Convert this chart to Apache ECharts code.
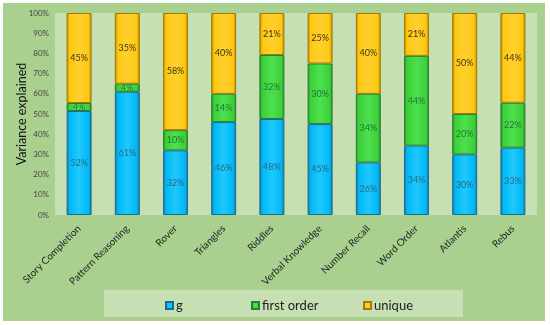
<!DOCTYPE html>
<html>
<head>
<meta charset="utf-8">
<script src="https://cdn.jsdelivr.net/npm/echarts@6/dist/echarts.min.js"></script>
<style>
html,body{margin:0;padding:0;background:#fff;}
#c{width:550px;height:325px;}
</style>
</head>
<body>
<div id="c"></div>
<script>
var categories = ['Story Completion','Pattern Reasoning','Rover','Triangles','Riddles','Verbal Knowledge','Number Recall','Word Order','Atlantis','Rebus'];
var gValues = [52,61,32,46,48,45,26,34,30,33];
var firstOrderValues = [4,4,10,14,32,30,34,44,20,22];
var uniqueValues = [45,35,58,40,21,25,40,21,50,44];
var yTicks = ['0%','10%','20%','30%','40%','50%','60%','70%','80%','90%','100%'];

// 100% stacked: each bar's share of its own total
function share(arr, i) {
  var t = gValues[i] + firstOrderValues[i] + uniqueValues[i];
  return arr[i] / t * 100;
}
function shares(arr) { return arr.map(function(v, i){ return { value: share(arr, i), raw: v }; }); }

function grad(edge, main, light) {
  return new echarts.graphic.LinearGradient(0, 0, 1, 0, [
    {offset: 0, color: edge},
    {offset: 0.12, color: main},
    {offset: 0.5, color: light},
    {offset: 0.88, color: main},
    {offset: 1, color: edge}
  ]);
}

var FONT = 'Lato';
var chart = echarts.init(document.getElementById('c'), null, {renderer: 'canvas'});

function mkSeries(name, arr, edge, main, light, border, labelColor) {
  return {
    name: name,
    type: 'bar',
    stack: 'total',
    barWidth: 25,
    data: shares(arr),
    itemStyle: { color: grad(edge, main, light), borderColor: border, borderWidth: 1 },
    label: {
      show: true, position: 'inside', fontFamily: FONT, fontSize: 9, color: labelColor,
      formatter: function(p){ return p.data.raw + '%'; }
    },
    emphasis: { disabled: true }
  };
}

function legendAt(left, name) {
  return {
    left: left, top: 294, itemWidth: 7, itemHeight: 7, icon: 'rect',
    data: [name],
    textStyle: { fontFamily: FONT, fontSize: 13, color: '#222', padding: [0,0,0,-2] },
    selectedMode: false
  };
}

chart.setOption({
  backgroundColor: '#ffffff',
  animation: false,
  graphic: [
    { type: 'rect', left: 3, top: 3, shape: { width: 542, height: 318 }, style: { fill: '#a9d08e' }, z: -10 },
    { type: 'rect', left: 104, top: 290, shape: { width: 359, height: 27 }, style: { fill: '#c6e0b4' }, z: -9 }
  ],
  legend: [
    legendAt(160, 'g'),
    legendAt(246, 'first order'),
    legendAt(358, 'unique')
  ],
  grid: {
    left: 55, right: 13, top: 13, bottom: 110,
    show: true, backgroundColor: '#c6e0b4', borderWidth: 0
  },
  xAxis: {
    type: 'category',
    data: categories,
    axisLine: { show: false },
    axisTick: { show: false },
    axisLabel: { rotate: 45, interval: 0, margin: 12, fontFamily: FONT, fontSize: 10, color: '#262626' }
  },
  yAxis: {
    type: 'value',
    min: 0, max: 100, interval: 10,
    name: 'Variance explained',
    nameLocation: 'middle',
    nameRotate: 90,
    nameGap: 27,
    nameMoveOverlap: false,
    nameTextStyle: { fontFamily: FONT, fontSize: 12.5, color: '#111' },
    splitLine: { show: false },
    axisLine: { show: false },
    axisTick: { show: false },
    axisLabel: {
      margin: 6, fontFamily: FONT, fontSize: 8, color: '#444',
      formatter: function(v){ return yTicks[Math.round(v/10)]; }
    }
  },
  series: [
    mkSeries('g', gValues, '#1a6f9e', '#00b9f2', '#20c8ff', '#1b6a94', '#2f6487'),
    mkSeries('first order', firstOrderValues, '#2a8a2a', '#3bd13b', '#4ee04e', '#2c7f2c', '#257535'),
    mkSeries('unique', uniqueValues, '#b08400', '#ffc70f', '#ffd030', '#a47a00', '#3b3416')
  ]
});
</script>
</body>
</html>
